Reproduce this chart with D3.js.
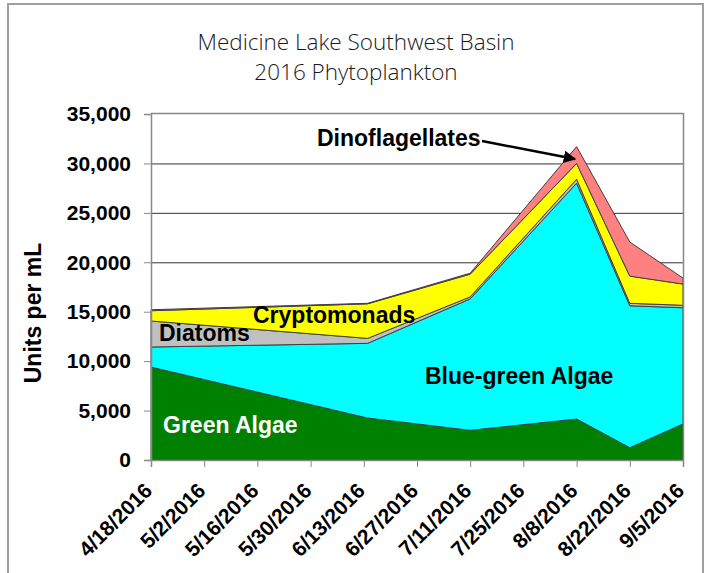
<!DOCTYPE html>
<html><head><meta charset="utf-8">
<script src="https://cdn.jsdelivr.net/npm/d3@7"></script>
<style>
body{margin:0;background:#fff;}
svg{display:block;}
</style></head>
<body>
<svg id="chart" width="710" height="573"></svg>
<script>
const sampleDates = ["2016-04-18","2016-06-14","2016-07-11","2016-08-08","2016-08-22","2016-09-05"];
const greenAlgae     = [9400, 4250, 3000, 4150, 1250, 3650];
const blueGreenAlgae = [2030, 7550, 13300, 23850, 14350, 11750];
const diatoms        = [2630, 500, 200, 400, 250, 250];
const cryptomonads   = [1040, 3500, 2300, 1600, 2750, 2150];
const dinoflagellates= [100, 50, 100, 1700, 3450, 600];
const seriesNames = ["Green Algae","Blue-green Algae","Diatoms","Cryptomonads","Dinoflagellates"];
const seriesColors = ["#008000","#00ffff","#c0c0c0","#ffff00","#ff8080"];
const yTicks = [0,5000,10000,15000,20000,25000,30000,35000];
const titleLines = ["Medicine Lake Southwest Basin","2016 Phytoplankton"];

const svg = d3.select("#chart");
const parse = d3.utcParse("%Y-%m-%d");
const dates = sampleDates.map(parse);
const keys = ["g","b","d","c","f"];
const arrs = [greenAlgae,blueGreenAlgae,diatoms,cryptomonads,dinoflagellates];
const table = dates.map((dt,i)=>{const o={date:dt}; keys.forEach((k,j)=>o[k]=arrs[j][i]); return o;});

const L=151,R=683,T=114,B=460;
const x = d3.scaleUtc().domain([parse("2016-04-18"), parse("2016-09-05")]).range([L,R]);
const y = d3.scaleLinear().domain([0,35000]).range([B,T]);

// outer frame
svg.append("rect").attr("x",8).attr("y",4).attr("width",695).attr("height",600)
  .attr("fill","#fff").attr("stroke","#a0a0a0").attr("stroke-width",2);

// gridlines
svg.append("g").selectAll("line").data(yTicks.filter(v=>v>0 && v<35000)).join("line")
  .attr("x1",L).attr("x2",R).attr("y1",d=>y(d)+0.5).attr("y2",d=>y(d)+0.5)
  .attr("stroke","#333").attr("stroke-width",1);

// stacked areas
const stack = d3.stack().keys(keys);
const layers = stack(table);
const area = d3.area().x(d=>x(d.data.date)).y0(d=>y(d[0])).y1(d=>y(d[1]));
svg.append("g").selectAll("path").data(layers).join("path")
  .attr("d",area).attr("fill",(d,i)=>seriesColors[i])
  .attr("stroke","#404040").attr("stroke-width",1).attr("stroke-linejoin","round");

// plot border top/right
svg.append("path").attr("d",`M${L},${T-0.5}H${R+0.5}V${B}`).attr("fill","none").attr("stroke","#888").attr("stroke-width",1.5);

// y axis
const yAxis = d3.axisLeft(y).tickValues(yTicks).tickFormat(d3.format(",")).tickSize(7).tickPadding(13);
const gy = svg.append("g").attr("transform",`translate(${L},0)`).call(yAxis);
gy.select(".domain").attr("stroke","#888").attr("stroke-width",1.5);
gy.selectAll(".tick line").attr("stroke","#888");
gy.selectAll("text").attr("font-family","Liberation Sans, Arial, sans-serif").attr("font-weight","bold").attr("font-size",21).attr("fill","#000");

// x axis
const xTicks = d3.range(0,11).map(i=>d3.utcDay.offset(parse("2016-04-18"),14*i));
const xAxis = d3.axisBottom(x).tickValues(xTicks).tickFormat(d3.utcFormat("%-m/%-d/%Y")).tickSize(7);
const gx = svg.append("g").attr("transform",`translate(0,${B})`).call(xAxis);
gx.select(".domain").attr("stroke","#888").attr("stroke-width",1.5);
gx.selectAll(".tick line").attr("stroke","#888");
gx.selectAll("text").attr("font-family","Liberation Sans, Arial, sans-serif").attr("font-weight","bold").attr("font-size",21).attr("fill","#000")
  .attr("text-anchor","end").attr("dy",0).attr("y",0)
  .attr("transform","translate(2,32) rotate(-45)");

// y label
svg.append("text").attr("transform","translate(41,313) rotate(-90)").attr("text-anchor","middle")
  .attr("font-family","Liberation Sans, Arial, sans-serif").attr("font-weight","bold").attr("font-size",23).text("Units per mL");

// title
svg.append("g").selectAll("text").data(titleLines).join("text")
  .attr("x",356).attr("y",(d,i)=>50+i*30).attr("text-anchor","middle")
  .attr("font-family","Open Sans, Lato, sans-serif").attr("font-weight",300).attr("font-size",22.5).attr("fill","#1a1a1a")
  .text(d=>d);

// series labels
const lbl = [
  {t:"Dinoflagellates", x:317, y:146, c:"#000"},
  {t:"Cryptomonads", x:253, y:323, c:"#000"},
  {t:"Diatoms", x:159, y:341, c:"#000"},
  {t:"Blue-green Algae", x:425, y:384, c:"#000"},
  {t:"Green Algae", x:163, y:433, c:"#fff"}
];
svg.append("g").selectAll("text").data(lbl).join("text")
  .attr("x",d=>d.x).attr("y",d=>d.y).attr("fill",d=>d.c)
  .attr("font-family","Liberation Sans, Arial, sans-serif").attr("font-weight","bold").attr("font-size",23)
  .text(d=>d.t);

// arrow
svg.append("defs").append("marker").attr("id","ah").attr("viewBox","0 0 10 10").attr("refX",9).attr("refY",5)
  .attr("markerWidth",5).attr("markerHeight",5).attr("orient","auto")
  .append("path").attr("d","M0,0L10,5L0,10z").attr("fill","#000");
svg.append("line").attr("x1",482).attr("y1",141).attr("x2",575).attr("y2",159)
  .attr("stroke","#000").attr("stroke-width",2.5).attr("marker-end","url(#ah)");
</script>
</body></html>
